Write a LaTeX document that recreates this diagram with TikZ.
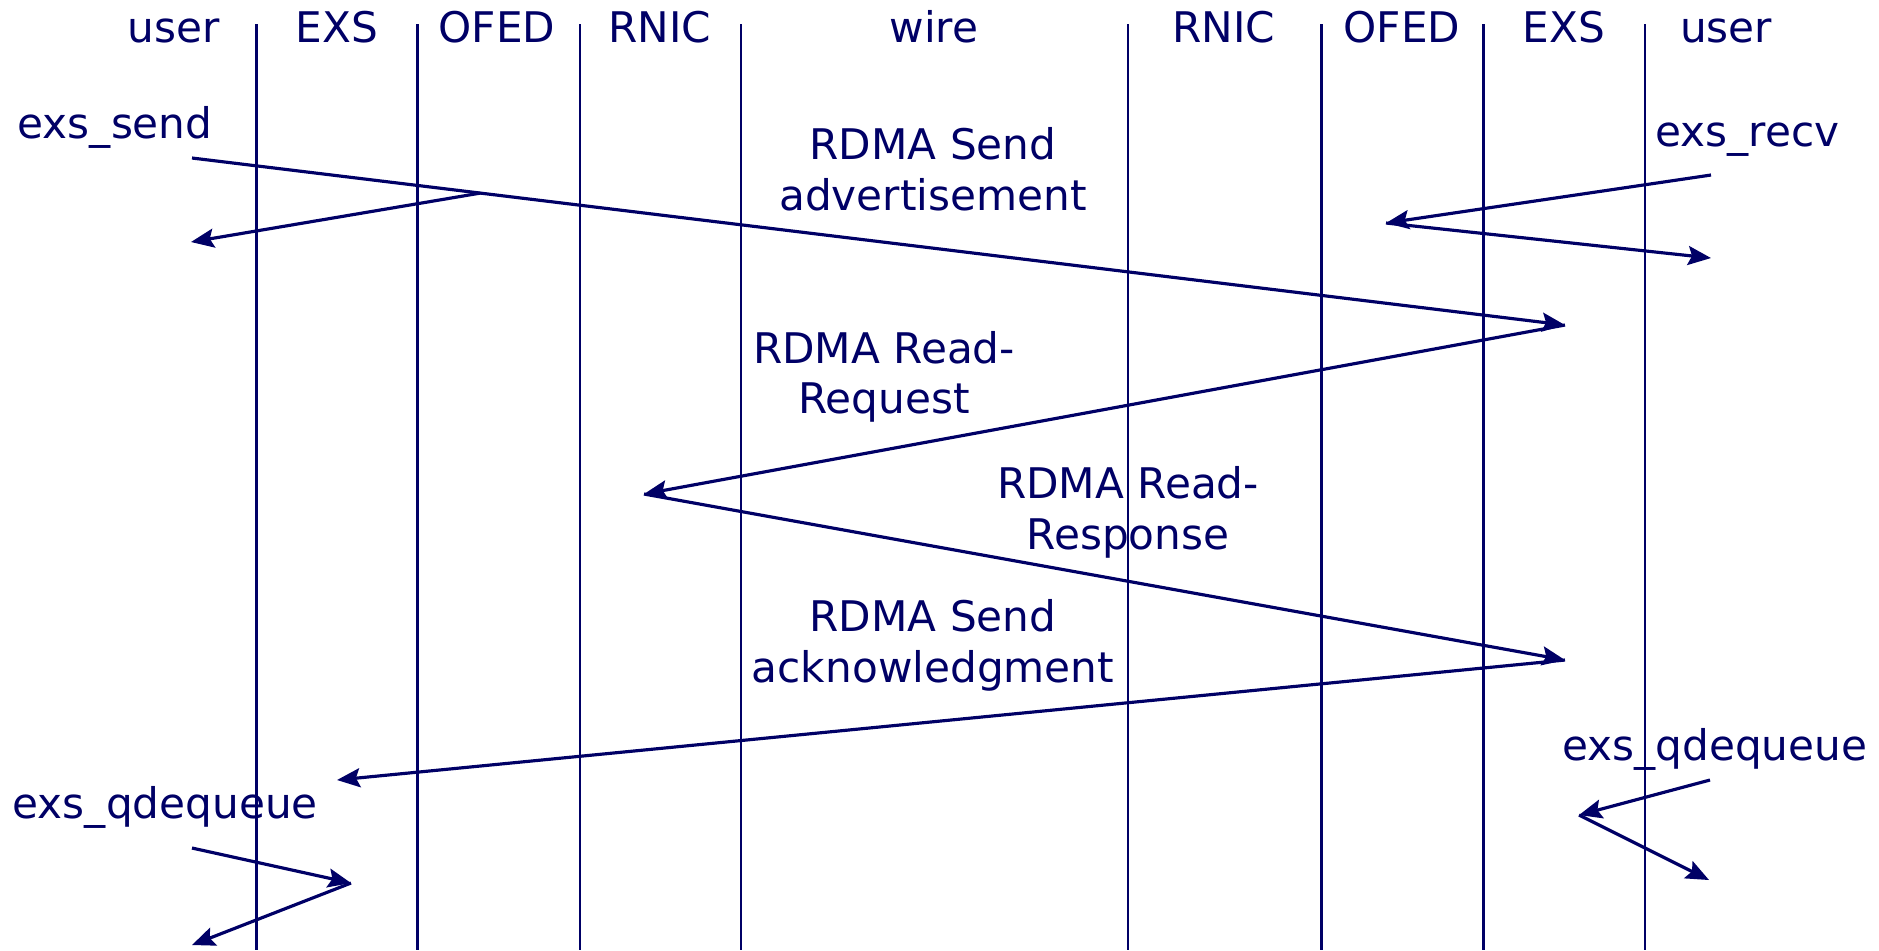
\documentclass[tikz,border=0pt]{standalone}
\usepackage{fontspec}
\setmainfont{DejaVu Sans}
\usepackage{tikz}
\usetikzlibrary{arrows.meta, calc}
\definecolor{ink}{RGB}{0,0,102}

\begin{document}
\begin{tikzpicture}[
	x=0.01cm, y=-0.01cm,
	every node/.style={font=\fontsize{12}{14.4}\selectfont, text=ink, inner sep=0pt},
	label/.style={anchor=base},
	lane/.style={draw=ink, line width=0.65pt},
	arrow/.style={draw=ink, line width=0.9pt, -{Stealth[length=2.3mm, width=1.9mm, inset=0.4mm, fill=ink]}}
]
\useasboundingbox (0,0) rectangle (1879,950);

% Lanes
\foreach \x/\lw in {256.5/0.65, 417.5/1.0, 580/0.65, 741/0.65, 1128/0.65, 1321.5/0.65, 1483.5/0.65, 1645/0.65} {
	\draw[lane, line width=\lw pt] (\x,24) -- (\x,950);
}

% Lane headers
\node[label] (huA) at (174,42) {user};
\node[label] (heA) at (337,42) {EXS};
\node[label] (hoA) at (497,42) {OFED};
\node[label] (hrA) at (660,42) {RNIC};
\node[label] (hw) at (934,42) {wire};
\node[label] (hrB) at (1224,42) {RNIC};
\node[label] (hoB) at (1402,42) {OFED};
\node[label] (heB) at (1564,42) {EXS};
\node[label] (huB) at (1726,42) {user};

% Calls
\node[label, anchor=base west] (send) at (17,138) {exs\_send};
\node[label, anchor=base east] (recv) at (1840,146) {exs\_recv};
\node[label, anchor=base east] (dqB) at (1868,760) {exs\_qdequeue};
\node[label, anchor=base west] (dqA) at (12,818) {exs\_qdequeue};

% Messages on the wire
\node[label] (adv1) at (933,159) {RDMA Send};
\node[label] (adv2) at (933,210) {advertisement};
\node[label] (rreq1) at (884,363) {RDMA Read-};
\node[label] (rreq2) at (884,413) {Request};
\node[label] (rresp1) at (1128,498) {RDMA Read-};
\node[label] (rresp2) at (1128,549) {Response};
\node[label] (ack1) at (933,631) {RDMA Send};
\node[label] (ack2) at (933,682) {acknowledgment};

% Points
\coordinate (sendA) at (192,158);
\coordinate (advB) at (1565,325);
\coordinate (postA) at ($(sendA)!0.21!(advB)$);
\coordinate (doneA) at (191,242);
\coordinate (recvB) at (1711,175);
\coordinate (postB) at (1386,223);
\coordinate (doneB) at (1711,258);
\coordinate (readA) at (644,494);
\coordinate (respB) at (1565,660);
\coordinate (ackA) at (337,780);
\coordinate (dqStartB) at (1710,780);
\coordinate (dqMidB) at (1579,815);
\coordinate (dqEndB) at (1709,880);
\coordinate (dqStartA) at (192,848);
\coordinate (dqMidA) at (351,883);
\coordinate (dqEndA) at (192,945);

% Arrows
\draw[arrow] (sendA) -- (advB);
\draw[arrow] (postA) -- (doneA);
\draw[arrow] (recvB) -- (postB);
\draw[arrow] (postB) -- (doneB);
\draw[arrow] (advB) -- (readA);
\draw[arrow] (readA) -- (respB);
\draw[arrow] (respB) -- (ackA);
\draw[arrow] (dqStartB) -- (dqMidB);
\draw[arrow] (dqMidB) -- (dqEndB);
\draw[arrow] (dqStartA) -- (dqMidA);
\draw[arrow] (dqMidA) -- (dqEndA);

\end{tikzpicture}
\end{document}
